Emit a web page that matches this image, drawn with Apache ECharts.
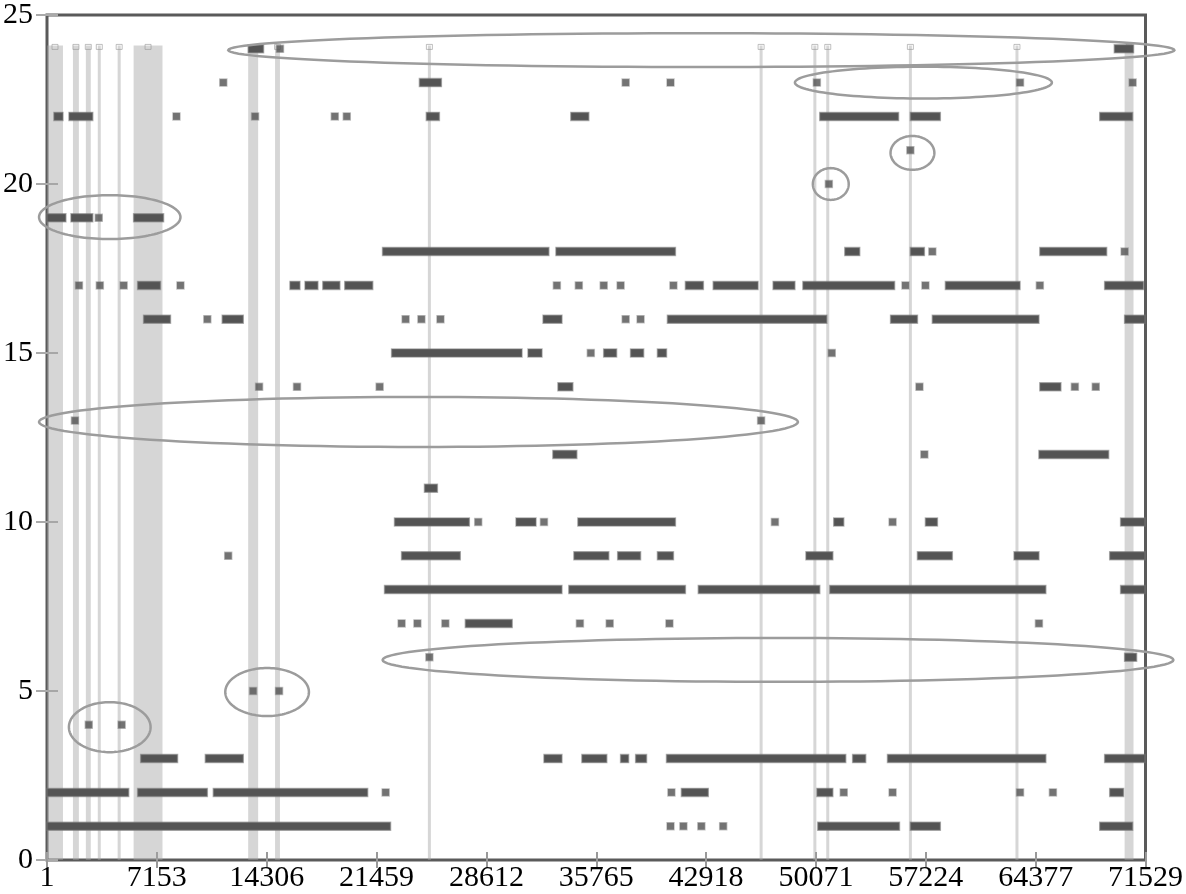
<!DOCTYPE html>
<html>
<head>
<meta charset="utf-8">
<script src="https://cdn.jsdelivr.net/npm/echarts@6/dist/echarts.min.js"></script>
<style>
html,body{margin:0;padding:0;background:#fff;}
#chart{width:1186px;height:894px;}
</style>
</head>
<body>
<div id="chart"></div>
<script>
// ---- tick labels ----
const xTickLabels = ['1','7153','14306','21459','28612','35765','42918','50071','57224','64377','71529'];
const xStep = 7153;
const xMax = 71530;
const yMax = 25;
const yStep = 5;

// ---- dense runs: [level, xStart, xEnd] ----
const runs = [
  [24,13100,14100],[24,69500,70750],
  [23,24250,25680],
  [22,450,1040],[22,1430,2980],[22,24700,25550],[22,34110,35280],[22,50320,55450],[22,56220,58170],[22,68550,70690],
  [19,0,1230],[19,1560,2980],[19,5640,7590],
  [18,21850,32680],[18,33140,40920],[18,51950,52920],[18,56220,57130],[18,64650,69000],
  [17,5900,7390],[17,15820,16470],[17,16800,17640],[17,17960,19070],[17,19390,21210],[17,41570,42740],[17,43380,46300],[17,47280,48700],[17,49220,55190],[17,58500,63360],[17,68870,71400],
  [16,6290,8040],[16,11410,12780],[16,32300,33530],[16,40400,50780],[16,54930,56680],[16,57650,64590],[16,70170,71500],
  [15,22440,30930],[15,31320,32230],[15,36250,37090],[15,38000,38850],[15,39750,40340],
  [14,33270,34240],[14,64650,66020],
  [12,32940,34500],[12,64590,69130],
  [11,24580,25420],
  [10,22630,27500],[10,30540,31840],[10,34570,40920],[10,51230,51880],[10,57200,57980],[10,69910,71500],
  [9,23090,26910],[9,34310,36580],[9,37160,38650],[9,39750,40790],[9,49420,51170],[9,56680,58950],[9,62970,64590],[9,69200,71500],
  [8,21980,33530],[8,33980,41570],[8,42410,50320],[8,50970,65040],[8,69910,71500],
  [7,27240,30290],
  [6,70170,70950],
  [3,6100,8500],[3,10310,12780],[3,32360,33530],[3,34830,36450],[3,37350,37870],[3,38330,39040],[3,40340,52010],[3,52460,53310],[3,54730,65040],[3,68870,71500],
  [2,0,5320],[2,5900,10440],[2,10830,20880],[2,41310,43060],[2,50130,51170],[2,69200,70100],
  [1,0,22370],[1,50190,55510],[1,56220,58170],[1,68550,70690]
];

// ---- isolated points: [x, level] ----
const points = [
  [15170,24],
  [11480,23],[37680,23],[40600,23],[50130,23],[63360,23],[70690,23],
  [8430,22],[13550,22],[18740,22],[19520,22],
  [56220,21],
  [50910,20],
  [3370,19],
  [57650,18],[70170,18],
  [2080,17],[3440,17],[4990,17],[8690,17],[33200,17],[34630,17],[36250,17],[37350,17],[40790,17],[55900,17],[57200,17],[64650,17],
  [10440,16],[23350,16],[24380,16],[25620,16],[37680,16],[38650,16],
  [35410,15],[51100,15],
  [13810,14],[16280,14],[21660,14],[56810,14],[66930,14],[68290,14],
  [1820,13],[46500,13],
  [57130,12],
  [28080,10],[32360,10],[47400,10],[55060,10],
  [11800,9],
  [23090,7],[24120,7],[25940,7],[34700,7],[36640,7],[40530,7],[64590,7],
  [24900,6],
  [13420,5],[15110,5],
  [2720,4],[4860,4],
  [22050,2],[40660,2],[51880,2],[55060,2],[63360,2],[65500,2],
  [40600,1],[41440,1],[42610,1],[44030,1]
];

// ---- light vertical lines / bands: [xStart, xEnd] ----
const vBands = [
  [0,1040],[1690,2075],[2530,2850],[3310,3500],[4600,4800],[5640,7520],
  [13100,13750],[14850,15170],[24900,24900],[46500,46500],[50000,50000],
  [50840,50840],[56220,56220],[63160,63160],[70170,70750]
];
const vTop = 24.1;

// ---- highlight ellipses: [cx, cy, rx, ry] ----
const ellipses = [
  [42606,23.96,30804,0.50],
  [57068,23.0,8366,0.47],
  [56355,20.92,1427,0.50],
  [51037,20.0,1167,0.47],
  [4086,19.02,4604,0.65],
  [24189,12.96,24708,0.74],
  [47600,5.92,25745,0.65],
  [14332,4.97,2724,0.71],
  [4086,3.93,2659,0.74]
];

const chart = echarts.init(document.getElementById('chart'));
const serif = '"Liberation Serif","DejaVu Serif",serif';

const xBase = {
  type:'value', min:0, max:xMax, interval:xStep,
  splitLine:{show:false}, axisLine:{show:false}
};
const yBase = {
  type:'value', min:0, max:yMax, interval:yStep,
  splitLine:{show:false}, axisLine:{show:false}
};

chart.setOption({
  animation:false,
  backgroundColor:'#fff',
  grid:{left:46,right:37,top:15,bottom:34,show:true,borderColor:'#5a5a5a',borderWidth:3,backgroundColor:'transparent'},
  xAxis:[
    Object.assign({}, xBase, {
      position:'bottom',
      axisTick:{show:true,inside:true,length:8,lineStyle:{color:'#999',width:2}},
      axisLabel:{show:true,margin:3,color:'#000',fontSize:30,fontFamily:serif,
        formatter:v=>xTickLabels[Math.round(v/xStep)]}
    }),
    Object.assign({}, xBase, {
      position:'top',
      axisTick:{show:true,inside:true,length:8,lineStyle:{color:'#999',width:2}},
      axisLabel:{show:false}
    })
  ],
  yAxis:[
    Object.assign({}, yBase, {
      position:'left',
      axisTick:{show:true,inside:true,length:11,lineStyle:{color:'#aaa',width:2}},
      axisLabel:{show:true,margin:14,color:'#000',fontSize:30,fontFamily:serif}
    }),
    Object.assign({}, yBase, {
      position:'right',
      axisTick:{show:true,inside:true,length:11,lineStyle:{color:'#aaa',width:2}},
      axisLabel:{show:false}
    })
  ],
  series:[
    {
      type:'custom', name:'lines', clip:true, z:1,
      data:vBands,
      renderItem:(params, api)=>{
        const p0 = api.coord([api.value(0), vTop]);
        const p1 = api.coord([api.value(1), 0]);
        let w = p1[0]-p0[0];
        let x = p0[0];
        if (w < 3) { x = (p0[0]+p1[0])/2 - 1.5; w = 3; }
        const cx = x + w/2;
        return {type:'group', children:[
          {type:'rect', shape:{x:x,y:p0[1],width:w,height:p1[1]-p0[1]},
           style:{fill:'rgba(165,165,165,0.45)'}},
          {type:'rect', shape:{x:cx-3,y:p0[1]-1,width:6,height:5},
           style:{fill:'rgba(0,0,0,0)',stroke:'rgba(150,150,150,0.6)',lineWidth:1}}
        ]};
      },
      encode:{x:[0,1]}
    },
    {
      type:'custom', name:'runs', clip:true, z:3,
      data:runs,
      renderItem:(params, api)=>{
        const lv = api.value(0);
        const p0 = api.coord([api.value(1), lv]);
        const p1 = api.coord([api.value(2), lv]);
        const w = Math.max(p1[0]-p0[0], 7);
        return {type:'rect', shape:{x:p0[0],y:p0[1]-4,width:w,height:8},
          style:{fill:'#545454',stroke:'rgba(120,120,120,0.55)',lineWidth:1.5}};
      },
      encode:{x:[1,2], y:0}
    },
    {
      type:'scatter', name:'points', z:4,
      data:points,
      symbol:'rect', symbolSize:7,
      itemStyle:{color:'#505050',borderColor:'rgba(120,120,120,0.55)',borderWidth:1.5}
    },
    {
      type:'custom', name:'ellipses', clip:false, z:5,
      data:ellipses,
      renderItem:(params, api)=>{
        const c = api.coord([api.value(0), api.value(1)]);
        const rx = api.size([api.value(2), 0])[0];
        const ry = api.size([0, api.value(3)])[1];
        const pts = [];
        for (let i=0;i<120;i++){
          const a = i/120*Math.PI*2;
          pts.push([c[0]+rx*Math.cos(a), c[1]+ry*Math.sin(a)]);
        }
        return {type:'polygon', shape:{points:pts},
          style:{fill:'rgba(0,0,0,0)',stroke:'#9c9c9c',lineWidth:2.5}};
      },
      encode:{x:0,y:1}
    }
  ]
});
</script>
</body>
</html>
